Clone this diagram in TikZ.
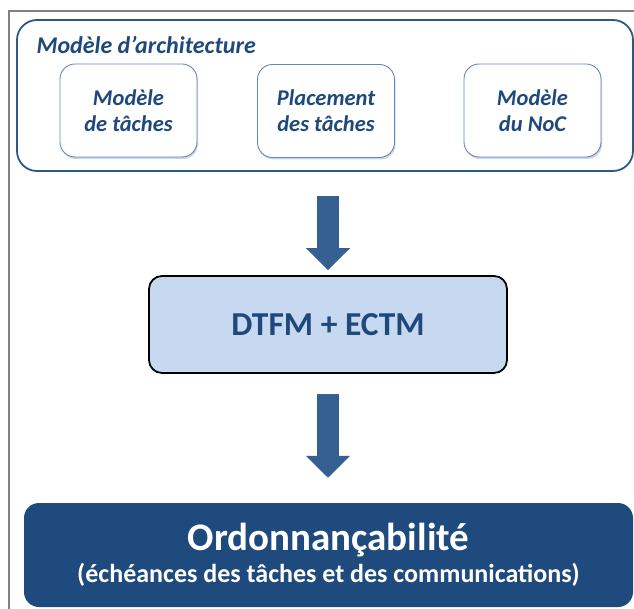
\documentclass[tikz,border=0pt]{standalone}
\usepackage{fontspec}
\setmainfont{Carlito}
\usetikzlibrary{arrows.meta,shadows}
\definecolor{txtblue}{RGB}{31,73,125}
\definecolor{archline}{RGB}{47,88,138}
\definecolor{innerline}{RGB}{100,135,185}
\definecolor{arrowblue}{RGB}{54,96,146}
\definecolor{dtfmfill}{RGB}{198,217,240}
\definecolor{botfill}{RGB}{30,74,126}
\tikzset{
  archbox/.style={draw=archline, line width=1.8pt, rounded corners=20pt, minimum width=616pt, minimum height=151pt},
  innerbox/.style={draw=innerline, line width=0.9pt, fill=white, rounded corners=15pt, minimum width=137pt, minimum height=93pt,
    drop shadow={shadow xshift=1pt, shadow yshift=-2pt, opacity=0.35, fill=innerline},
    align=center, text=txtblue, font=\fontsize{22.5}{26}\selectfont\bfseries\itshape},
  dtfmbox/.style={draw=black, line width=1.8pt, fill=dtfmfill, rounded corners=13pt, minimum width=358pt, minimum height=97pt,
    text=txtblue, font=\fontsize{33.5}{38}\selectfont\bfseries},
  botbox/.style={fill=botfill, rounded corners=15pt, minimum width=609pt, minimum height=104pt, align=center, text=white},
  bigarrow/.style={draw=arrowblue, line width=22pt, -{Triangle[width=43pt,length=22pt]}},
}
\begin{document}
\begin{tikzpicture}[x=1pt,y=-1pt]
\useasboundingbox (0,0) rectangle (634,609);
\draw[gray, line width=1.2pt] (9,609) -- (9,11) -- (634,11);
\node[archbox] (arch) at (325,95.5) {};
\node[anchor=west, text=txtblue, font=\fontsize{24}{28}\selectfont\bfseries\itshape] (title) at (33,45) {Modèle d’architecture};
\node[innerbox] (m1) at (128.5,110.5) {Modèle\\de tâches};
\node[innerbox] (m2) at (326,111) {Placement\\des tâches};
\node[innerbox] (m3) at (532.5,110.5) {Modèle\\du NoC};
\node[dtfmbox] (dtfm) at (328,324.5) {DTFM + ECTM};
\node[botbox] (bot) at (328.5,555) {{\fontsize{39}{40}\selectfont\bfseries Ordonnançabilité}\\[5pt]{\fontsize{26}{28}\selectfont\bfseries (échéances des tâches et des communications)}};
\draw[bigarrow, shorten <=24pt, shorten >=5pt] (arch.south -| dtfm.center) -- (dtfm.north);
\draw[bigarrow, shorten <=20pt, shorten >=25pt] (dtfm.south) -- (bot.north -| dtfm.south);
\end{tikzpicture}
\end{document}
